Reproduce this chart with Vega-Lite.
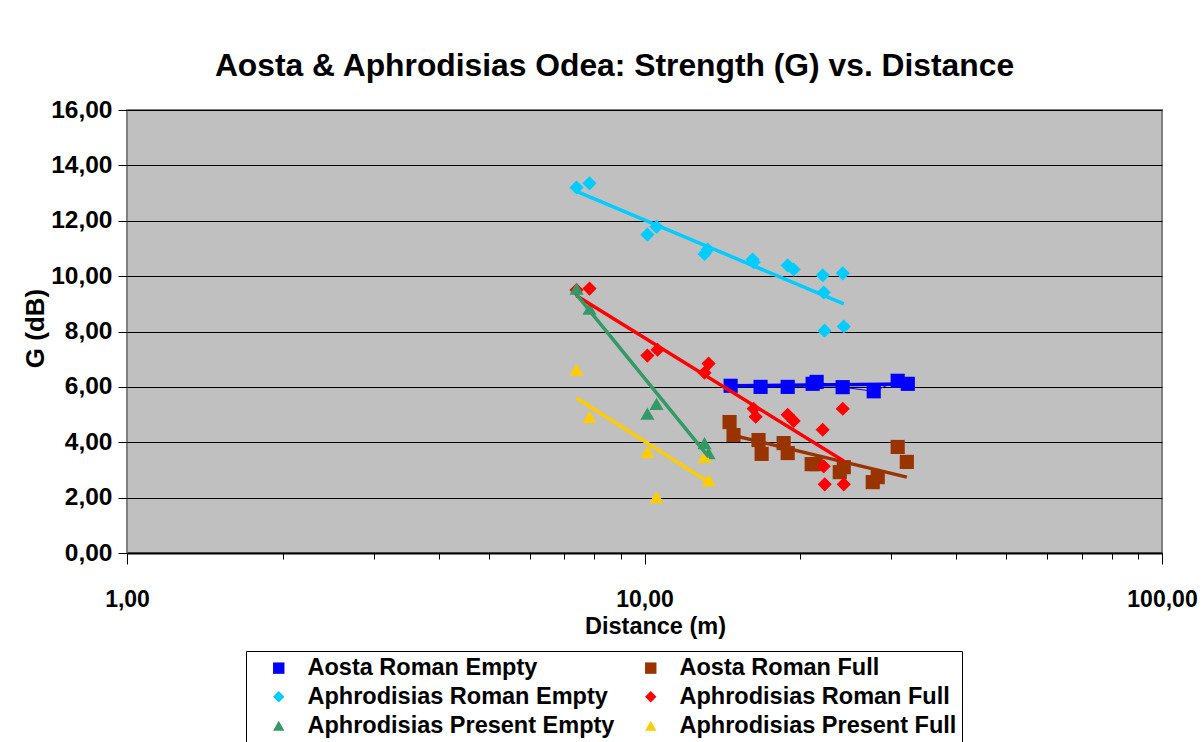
{
  "$schema": "https://vega.github.io/schema/vega-lite/v6.json",
  "autosize": {"type": "none"},
  "width": 1035,
  "height": 443,
  "padding": {"left": 127, "top": 110, "right": 40, "bottom": 189},
  "background": "#ffffff",
  "title": {
    "text": "Aosta & Aphrodisias Odea: Strength (G) vs. Distance",
    "font": "Liberation Sans",
    "fontSize": 31.8,
    "fontWeight": "bold",
    "color": "#000000",
    "anchor": "middle",
    "frame": "group",
    "dx": -30,
    "dy": 33,
    "offset": 22,
    "baseline": "alphabetic"
  },
  "config": {
    "view": {"fill": "#C0C0C0", "stroke": "#808080", "strokeWidth": 2},
    "axis": {"labelColor": "#000000", "titleColor": "#000000"},
    "legend": {
      "orient": "none", "legendX": 119, "legendY": 541,
      "columns": 2, "columnPadding": 8, "rowPadding": 4,
      "strokeColor": "#000000", "fillColor": "#ffffff", "padding": 5,
      "symbolSize": 130, "symbolOffset": 16, "labelOffset": 17, "symbolStrokeWidth": 0,
      "labelFont": "Liberation Sans", "labelFontSize": 23.5, "labelFontWeight": "bold", "labelColor": "#000000", "labelLimit": 500
    }
  },
  "resolve": {
    "scale": {"color": "independent", "shape": "independent"},
    "legend": {"color": "independent", "shape": "independent"}
  },
  "datasets": {
    "pts": [
      {"series": "Aosta Roman Empty", "d": 14.67, "G": 6.04},
      {"series": "Aosta Roman Empty", "d": 16.76, "G": 6.0},
      {"series": "Aosta Roman Empty", "d": 18.91, "G": 6.0},
      {"series": "Aosta Roman Empty", "d": 21.13, "G": 6.11},
      {"series": "Aosta Roman Empty", "d": 21.51, "G": 6.18},
      {"series": "Aosta Roman Empty", "d": 24.15, "G": 5.99},
      {"series": "Aosta Roman Empty", "d": 27.73, "G": 5.84},
      {"series": "Aosta Roman Empty", "d": 30.85, "G": 6.22},
      {"series": "Aosta Roman Empty", "d": 32.27, "G": 6.11},
      {"series": "Aosta Roman Full", "d": 14.6, "G": 4.73},
      {"series": "Aosta Roman Full", "d": 14.86, "G": 4.26},
      {"series": "Aosta Roman Full", "d": 16.61, "G": 4.08},
      {"series": "Aosta Roman Full", "d": 16.84, "G": 3.58},
      {"series": "Aosta Roman Full", "d": 18.57, "G": 3.97},
      {"series": "Aosta Roman Full", "d": 18.91, "G": 3.61},
      {"series": "Aosta Roman Full", "d": 21.04, "G": 3.21},
      {"series": "Aosta Roman Full", "d": 21.42, "G": 3.21},
      {"series": "Aosta Roman Full", "d": 23.84, "G": 2.92},
      {"series": "Aosta Roman Full", "d": 24.27, "G": 3.1},
      {"series": "Aosta Roman Full", "d": 27.61, "G": 2.56},
      {"series": "Aosta Roman Full", "d": 28.23, "G": 2.74},
      {"series": "Aosta Roman Full", "d": 30.85, "G": 3.83},
      {"series": "Aosta Roman Full", "d": 32.13, "G": 3.29},
      {"series": "Aphrodisias Roman Empty", "d": 7.39, "G": 13.2},
      {"series": "Aphrodisias Roman Empty", "d": 7.83, "G": 13.35},
      {"series": "Aphrodisias Roman Empty", "d": 10.13, "G": 11.5},
      {"series": "Aphrodisias Roman Empty", "d": 10.55, "G": 11.78},
      {"series": "Aphrodisias Roman Empty", "d": 13.06, "G": 10.8},
      {"series": "Aphrodisias Roman Empty", "d": 13.24, "G": 10.96},
      {"series": "Aphrodisias Roman Empty", "d": 16.18, "G": 10.6},
      {"series": "Aphrodisias Roman Empty", "d": 16.25, "G": 10.5},
      {"series": "Aphrodisias Roman Empty", "d": 18.91, "G": 10.39},
      {"series": "Aphrodisias Roman Empty", "d": 19.42, "G": 10.24},
      {"series": "Aphrodisias Roman Empty", "d": 22.1, "G": 10.03},
      {"series": "Aphrodisias Roman Empty", "d": 22.2, "G": 9.41},
      {"series": "Aphrodisias Roman Empty", "d": 24.16, "G": 10.1},
      {"series": "Aphrodisias Roman Empty", "d": 22.28, "G": 8.03},
      {"series": "Aphrodisias Roman Empty", "d": 24.27, "G": 8.18},
      {"series": "Aphrodisias Roman Full", "d": 7.39, "G": 9.5},
      {"series": "Aphrodisias Roman Full", "d": 7.83, "G": 9.55},
      {"series": "Aphrodisias Roman Full", "d": 10.13, "G": 7.13},
      {"series": "Aphrodisias Roman Full", "d": 10.6, "G": 7.34},
      {"series": "Aphrodisias Roman Full", "d": 13.3, "G": 6.84},
      {"series": "Aphrodisias Roman Full", "d": 13.06, "G": 6.51},
      {"series": "Aphrodisias Roman Full", "d": 16.25, "G": 5.21},
      {"series": "Aphrodisias Roman Full", "d": 16.4, "G": 4.92},
      {"series": "Aphrodisias Roman Full", "d": 18.91, "G": 4.99},
      {"series": "Aphrodisias Roman Full", "d": 19.42, "G": 4.77},
      {"series": "Aphrodisias Roman Full", "d": 22.1, "G": 4.45},
      {"series": "Aphrodisias Roman Full", "d": 24.16, "G": 5.21},
      {"series": "Aphrodisias Roman Full", "d": 22.2, "G": 3.13},
      {"series": "Aphrodisias Roman Full", "d": 22.3, "G": 2.48},
      {"series": "Aphrodisias Roman Full", "d": 24.27, "G": 2.48},
      {"series": "Aphrodisias Present Empty", "d": 7.39, "G": 9.55},
      {"series": "Aphrodisias Present Empty", "d": 7.83, "G": 8.83},
      {"series": "Aphrodisias Present Empty", "d": 10.13, "G": 5.03},
      {"series": "Aphrodisias Present Empty", "d": 10.55, "G": 5.39},
      {"series": "Aphrodisias Present Empty", "d": 13.06, "G": 3.97},
      {"series": "Aphrodisias Present Empty", "d": 13.3, "G": 3.61},
      {"series": "Aphrodisias Present Full", "d": 7.39, "G": 6.62},
      {"series": "Aphrodisias Present Full", "d": 7.83, "G": 4.92},
      {"series": "Aphrodisias Present Full", "d": 10.13, "G": 3.65},
      {"series": "Aphrodisias Present Full", "d": 10.55, "G": 2.02},
      {"series": "Aphrodisias Present Full", "d": 13.06, "G": 3.47},
      {"series": "Aphrodisias Present Full", "d": 13.3, "G": 2.63}
    ],
    "trend": [
      {"series": "Aosta Roman Empty", "d": 14.67, "G": 6.04},
      {"series": "Aosta Roman Empty", "d": 32.27, "G": 6.1},
      {"series": "Aosta Roman Full", "d": 14.6, "G": 4.28},
      {"series": "Aosta Roman Full", "d": 32.13, "G": 2.74},
      {"series": "Aphrodisias Roman Empty", "d": 7.39, "G": 13.06},
      {"series": "Aphrodisias Roman Empty", "d": 24.27, "G": 9.0},
      {"series": "Aphrodisias Roman Full", "d": 7.39, "G": 9.29},
      {"series": "Aphrodisias Roman Full", "d": 24.27, "G": 3.32},
      {"series": "Aphrodisias Present Empty", "d": 7.39, "G": 9.33},
      {"series": "Aphrodisias Present Empty", "d": 13.3, "G": 3.47},
      {"series": "Aphrodisias Present Full", "d": 7.39, "G": 5.6},
      {"series": "Aphrodisias Present Full", "d": 13.3, "G": 2.56}
    ]
  },
  "encoding": {
    "x": {
      "field": "d", "type": "quantitative",
      "scale": {"type": "log", "domain": [1, 100], "nice": false},
      "axis": {
        "title": "Distance (m)",
        "values": [1,2,3,4,5,6,7,8,9,10,20,30,40,50,60,70,80,90,100],
        "labelExpr": "(datum.value == 1 || datum.value == 10 || datum.value == 100) ? replace(format(datum.value, '.2f'), '.', ',') : ''",
        "grid": false,
        "domain": true, "domainColor": "#000000", "domainWidth": 2,
        "ticks": true, "tickColor": "#000000", "tickWidth": 1,
        "tickSize": {"condition": {"test": "datum.value == 1 || datum.value == 10 || datum.value == 100", "value": 11}, "value": 6},
        "labelFont": "Liberation Sans", "labelFontSize": 23, "labelFontWeight": "bold",
        "labelPadding": 24, "labelOverlap": false, "labelFlush": false,
        "titleFont": "Liberation Sans", "titleFontSize": 23.5, "titleFontWeight": "bold",
        "titlePadding": 3, "titleX": 528
      }
    },
    "y": {
      "field": "G", "type": "quantitative",
      "scale": {"domain": [0, 16], "nice": false},
      "axis": {
        "title": "G (dB)",
        "values": [0,2,4,6,8,10,12,14,16],
        "labelExpr": "replace(format(datum.value, '.2f'), '.', ',')",
        "grid": true, "gridColor": "#000000", "gridWidth": 1.2,
        "domain": false,
        "ticks": true, "tickColor": "#000000", "tickSize": 9, "tickWidth": 1,
        "labelFont": "Liberation Sans", "labelFontSize": 24.5, "labelFontWeight": "bold",
        "labelPadding": 6,
        "titleFont": "Liberation Sans", "titleFontSize": 26, "titleFontWeight": "bold",
        "titleX": -92, "titleY": 218, "titleAlign": "center", "titleBaseline": "middle", "titleAngle": -90
      }
    }
  },
  "layer": [
    {
      "data": {"name": "pts"},
      "transform": [{"filter": "datum.series === 'Aosta Roman Empty'"}],
      "mark": {"type": "line", "strokeWidth": 1},
      "encoding": {
        "order": {"field": "d", "type": "quantitative"},
        "color": {"field": "series", "type": "nominal", "legend": null,
          "scale": {
            "domain": ["Aosta Roman Empty", "Aosta Roman Full", "Aphrodisias Roman Empty", "Aphrodisias Roman Full", "Aphrodisias Present Empty", "Aphrodisias Present Full"],
            "range": ["#0000FF", "#993300", "#00CCFF", "#FF0000", "#339966", "#FFCC00"]
          }}
      }
    },
    {
      "data": {"name": "pts"},
      "mark": {"type": "point", "filled": true, "opacity": 1, "size": 200, "strokeWidth": 0},
      "encoding": {
        "shape": {
          "field": "series", "type": "nominal",
          "scale": {
            "domain": ["Aosta Roman Empty", "Aphrodisias Roman Empty", "Aphrodisias Present Empty", "Aosta Roman Full", "Aphrodisias Roman Full", "Aphrodisias Present Full"],
            "range": ["square", "diamond", "triangle-up", "square", "diamond", "triangle-up"]
          },
          "legend": {"title": null}
        },
        "color": {
          "field": "series", "type": "nominal",
          "scale": {
            "domain": ["Aosta Roman Empty", "Aphrodisias Roman Empty", "Aphrodisias Present Empty", "Aosta Roman Full", "Aphrodisias Roman Full", "Aphrodisias Present Full"],
            "range": ["#0000FF", "#00CCFF", "#339966", "#993300", "#FF0000", "#FFCC00"]
          },
          "legend": {"title": null}
        }
      }
    },
    {
      "data": {"name": "trend"},
      "mark": {"type": "line", "strokeWidth": 3.5},
      "encoding": {
        "order": {"field": "d", "type": "quantitative"},
        "color": {"field": "series", "type": "nominal", "legend": null,
          "scale": {
            "domain": ["Aosta Roman Empty", "Aosta Roman Full", "Aphrodisias Roman Empty", "Aphrodisias Roman Full", "Aphrodisias Present Empty", "Aphrodisias Present Full"],
            "range": ["#0000FF", "#993300", "#00CCFF", "#FF0000", "#339966", "#FFCC00"]
          }}
      }
    }
  ]
}
